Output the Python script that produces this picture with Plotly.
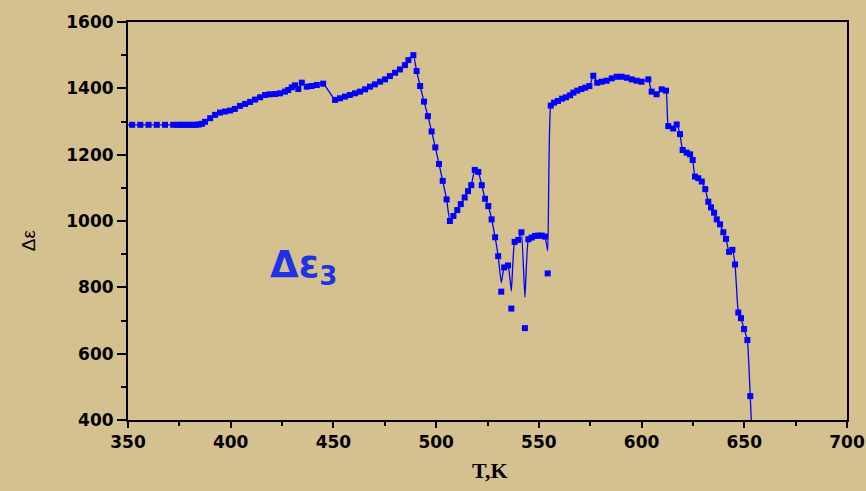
import plotly.graph_objects as go

# Temperature (K) and Δε3 values
T = [352, 356, 360, 364, 368, 372, 374, 375.5, 377, 378.5, 380, 381.5, 383, 384.5, 386,
     387.5, 390, 392.4, 394.8, 397.2, 399.7, 402, 404.5, 407, 409.4, 411.8, 414.3, 416.7,
     419, 421.6, 424, 426.4, 428, 429.7, 431.3, 432.9, 434.6, 437, 439.4, 441.9, 445,
     450.8, 453.2, 455.6, 458, 460.5, 462.9, 465.4, 467.8, 470.2, 472.7, 475.1, 477.5,
     480, 482.4, 484.8, 486.5, 488.9, 490.5, 492.2, 494.1, 496.0, 497.8, 499.6, 501.4,
     503.2, 505.1, 506.7, 508.4, 510.3, 512.0, 513.9, 515.5, 517.1, 518.8, 520.5, 522.2,
     523.8, 525.4, 527.0, 528.7, 530.2, 531.7, 533.1, 535.0, 536.6, 538.2, 540.0, 541.5,
     543.2, 544.9, 546.5, 548.1, 549.7, 551.4, 553.0, 554.3, 555.8, 557.4, 559.3, 561.3,
     563.2, 565.2, 566.8, 568.7, 570.7, 572.6, 574.6, 576.5, 578.4, 580.6, 583.0, 585.5,
     587.9, 590.3, 592.8, 595.2, 597.6, 600.0, 603.3, 604.9, 607.3, 609.8, 611.9, 613.0,
     615.4, 617.1, 618.7, 620.0, 622.0, 623.6, 624.9, 626.0, 627.6, 629.3, 631.0, 632.5,
     633.8, 635.3, 636.6, 638.2, 639.8, 641.1, 642.6, 644.2, 645.5, 647.1, 648.4, 649.9,
     651.5, 652.9]
eps = [1290, 1290, 1290, 1290, 1290, 1290, 1290, 1290, 1290, 1290, 1290, 1290, 1290, 1291, 1293,
       1299, 1310, 1320, 1327, 1330, 1333, 1338, 1347, 1353, 1359, 1366, 1373, 1380,
       1382, 1383, 1385, 1390, 1395, 1403, 1409, 1398, 1417, 1405, 1407, 1410, 1414,
       1365, 1370, 1375, 1380, 1385, 1390, 1397, 1405, 1412, 1420, 1427, 1437,
       1447, 1457, 1470, 1485, 1500, 1452, 1407, 1360, 1316, 1270, 1222, 1172,
       1121, 1065, 1000, 1015, 1033, 1051, 1071, 1090, 1108, 1154, 1148, 1108,
       1067, 1045, 1005, 951, 894, 787, 860, 866, 736, 937, 943, 966,
       677, 945, 950, 955, 956, 956, 953, 842, 1348, 1357, 1362, 1369,
       1373, 1379, 1387, 1393, 1398, 1402, 1407, 1438, 1417, 1420, 1423, 1430,
       1435, 1435, 1432, 1427, 1423, 1420, 1427, 1390, 1382, 1397, 1393, 1286,
       1279, 1291, 1262, 1214, 1206, 1201, 1184, 1134, 1129, 1119, 1096, 1058,
       1041, 1025, 1005, 990, 966, 946, 907, 913, 869, 724, 707, 674,
       641, 472]

# smoothed curve does not reach these outlying points
outlier_T = [531.7, 536.6, 543.2, 554.3]
curve_at_outliers = [814, 789, 770, 910]
curve_start = (350, 1290)
curve_end = (653.6, 370)

eps_curve = list(eps)
for t, v in zip(outlier_T, curve_at_outliers):
    eps_curve[T.index(t)] = v
T_curve = [curve_start[0]] + T + [curve_end[0]]
eps_curve = [curve_start[1]] + eps_curve + [curve_end[1]]

blue = "#0000ff"
fig = go.Figure()
fig.add_trace(go.Scatter(x=T_curve, y=eps_curve, mode="lines",
                         line=dict(color=blue, width=1.3, shape="spline", smoothing=0.4),
                         hoverinfo="skip", showlegend=False))
fig.add_trace(go.Scatter(x=T, y=eps, mode="markers",
                         marker=dict(symbol="square", size=6, color=blue),
                         showlegend=False))

bg = "#d5c08f"
tickfont = dict(family="DejaVu Sans", size=17, color="black", weight="bold")
fig.update_layout(
    width=866, height=491,
    margin=dict(l=128, r=19, t=22, b=71),
    paper_bgcolor=bg, plot_bgcolor=bg,
    xaxis=dict(range=[350, 700], dtick=50, showgrid=False, zeroline=False, automargin=False,
               showline=True, linecolor="black", linewidth=2, mirror=True,
               ticks="outside", ticklen=6, tickwidth=2, tickcolor="black",
               minor=dict(dtick=25, ticks="outside", ticklen=4, tickwidth=1.5, tickcolor="black"),
               tickfont=tickfont),
    yaxis=dict(range=[400, 1600], dtick=200, showgrid=False, zeroline=False, automargin=False,
               showline=True, linecolor="black", linewidth=2, mirror=True,
               ticks="outside", ticklen=9, tickwidth=2, tickcolor="black",
               minor=dict(dtick=100, ticks="outside", ticklen=5, tickwidth=1.5, tickcolor="black"),
               tickfont=tickfont),
    annotations=[
        dict(text="T,K", xref="paper", yref="paper", x=0.503, y=-0.126,
             xanchor="center", yanchor="middle",
             showarrow=False, font=dict(family="Liberation Serif", size=22, color="black", weight="bold")),
        dict(text="Δε", xref="paper", yref="paper", x=-0.139, y=0.452, textangle=-90,
             xanchor="center", yanchor="middle",
             showarrow=False, font=dict(family="Liberation Sans", size=19, color="black")),
        dict(text="Δε<sub>3</sub>", xref="x", yref="y", x=418, y=861, xanchor="left", yanchor="middle",
             showarrow=False, font=dict(family="DejaVu Sans", size=37, color="#1e32e6", weight="bold")),
    ],
)
fig.write_html("out.html")
